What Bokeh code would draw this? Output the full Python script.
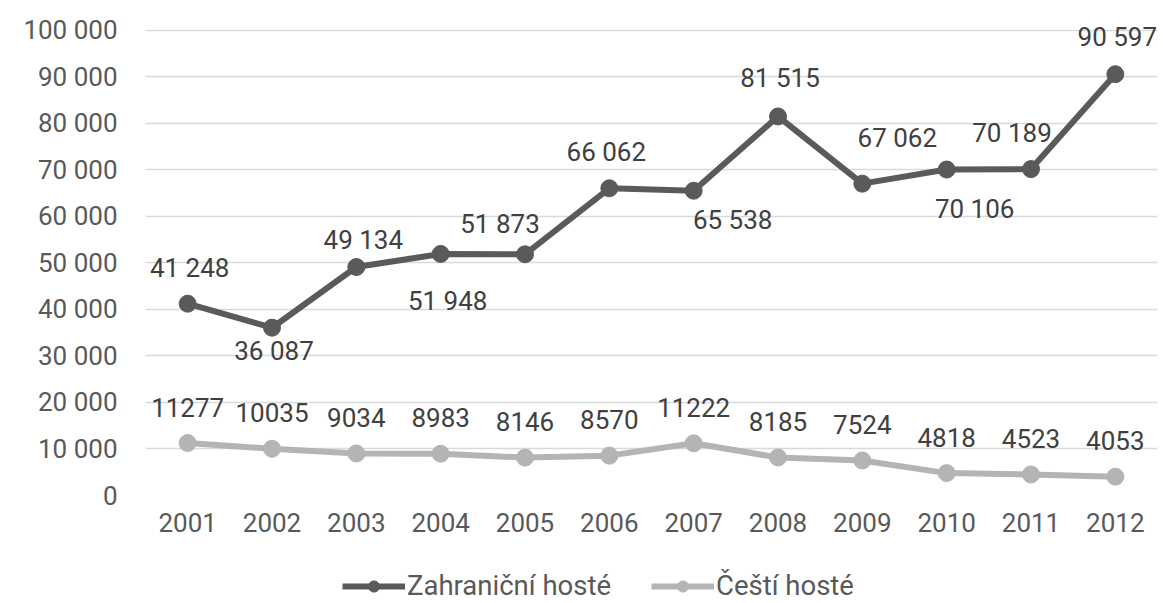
from bokeh.plotting import figure
from bokeh.layouts import column
from bokeh.models import FactorRange, Range1d, FixedTicker, Legend, LegendItem, ColumnDataSource
from bokeh.embed import file_html
from bokeh.resources import INLINE
from bokeh.core.properties import value

years = [str(y) for y in range(2001, 2013)]
foreign = [41248, 36087, 49134, 51948, 51873, 66062, 65538, 81515, 67062, 70106, 70189, 90597]
czech = [11277, 10035, 9034, 8983, 8146, 8570, 11222, 8185, 7524, 4818, 4523, 4053]
y_ticks = list(range(0, 100001, 10000))
series_names = ["Zahraniční hosté", "Čeští hosté"]

# data-label placement (screen-pixel offsets from each point), as in the original layout
foreign_label_dx = [2, 2, 7, 7, -25, -3, 39, 2, 35, 28, -19, 2]
foreign_label_dy = [-36, 23, -27, 47, -30, -36, 29, -38, -46, 39, -36, -37]
czech_label_dy = -36

DARK = "#5a5a5a"
LIGHT = "#b4b4b4"
TICK_TXT = "#595959"
LBL_TXT = "#404040"
FONT = "Roboto"


def spaced(v):
    return f"{v:,}".replace(",", " ")


p = figure(
    width=1163, height=552,
    x_range=FactorRange(factors=years, range_padding=0),
    y_range=Range1d(0, 104300),
    output_backend="svg", toolbar_location=None,
    min_border_left=145, min_border_right=6, min_border_top=10, min_border_bottom=57,
)
p.outline_line_color = None
p.background_fill_color = "white"
p.border_fill_color = "white"
p.xgrid.grid_line_color = None
p.ygrid.grid_line_color = "#d9d9d9"
p.ygrid.grid_line_width = 1.5
p.yaxis.ticker = FixedTicker(ticks=y_ticks)
p.yaxis.major_label_overrides = {t: spaced(t) for t in y_ticks}

for ax in (p.xaxis, p.yaxis):
    ax.axis_line_color = None
    ax.major_tick_line_color = None
    ax.minor_tick_line_color = None
    ax.major_tick_out = 0
    ax.major_tick_in = 0
    ax.major_label_text_font = FONT
    ax.major_label_text_font_size = "26px"
    ax.major_label_text_color = TICK_TXT
p.yaxis.major_label_standoff = 28
p.xaxis.major_label_standoff = 17

src_f = ColumnDataSource(dict(
    x=years, y=foreign,
    t=[spaced(v) for v in foreign],
    dx=foreign_label_dx, dy=foreign_label_dy,
))
src_c = ColumnDataSource(dict(
    x=years, y=czech,
    t=[str(v) for v in czech],
    dx=[0] * len(years), dy=[czech_label_dy] * len(years),
))

p.line("x", "y", source=src_f, line_width=6, line_color=DARK)
p.scatter("x", "y", source=src_f, size=17, fill_color=DARK, line_color=DARK)
p.line("x", "y", source=src_c, line_width=6, line_color=LIGHT)
p.scatter("x", "y", source=src_c, size=17, fill_color=LIGHT, line_color=LIGHT)

for src in (src_f, src_c):
    p.text("x", "y", text="t", source=src, x_offset="dx", y_offset="dy",
           text_align="center", text_baseline="middle",
           text_font=value(FONT), text_font_size="26px", text_color=LBL_TXT)

# legend strip below the chart (same series, drawn outside its visible range)
q = figure(
    width=1163, height=51,
    x_range=FactorRange(factors=years, range_padding=0),
    y_range=Range1d(-2, -1),
    output_backend="svg", toolbar_location=None,
    x_axis_location=None, y_axis_location=None,
    min_border_left=0, min_border_right=0, min_border_top=0, min_border_bottom=0,
)
q.outline_line_color = None
q.xgrid.grid_line_color = None
q.ygrid.grid_line_color = None
lf = q.line("x", "y", source=src_f, line_width=6, line_color=DARK)
sf = q.scatter("x", "y", source=src_f, size=13, fill_color=DARK, line_color=DARK)
lc = q.line("x", "y", source=src_c, line_width=6, line_color=LIGHT)
sc = q.scatter("x", "y", source=src_c, size=13, fill_color=LIGHT, line_color=LIGHT)

legend = Legend(
    items=[LegendItem(label=series_names[0], renderers=[lf, sf]),
           LegendItem(label=series_names[1], renderers=[lc, sc])],
    orientation="horizontal",
    location=(197, 1),
    glyph_width=63, glyph_height=28,
    label_standoff=2, spacing=40,
    padding=0, margin=0,
    border_line_color=None, background_fill_alpha=0,
    label_text_font=FONT, label_text_font_size="27.5px", label_text_color=TICK_TXT,
)
q.add_layout(legend, "center")

layout = column(p, q, spacing=0)
open("out.html", "w").write(file_html(layout, INLINE))
